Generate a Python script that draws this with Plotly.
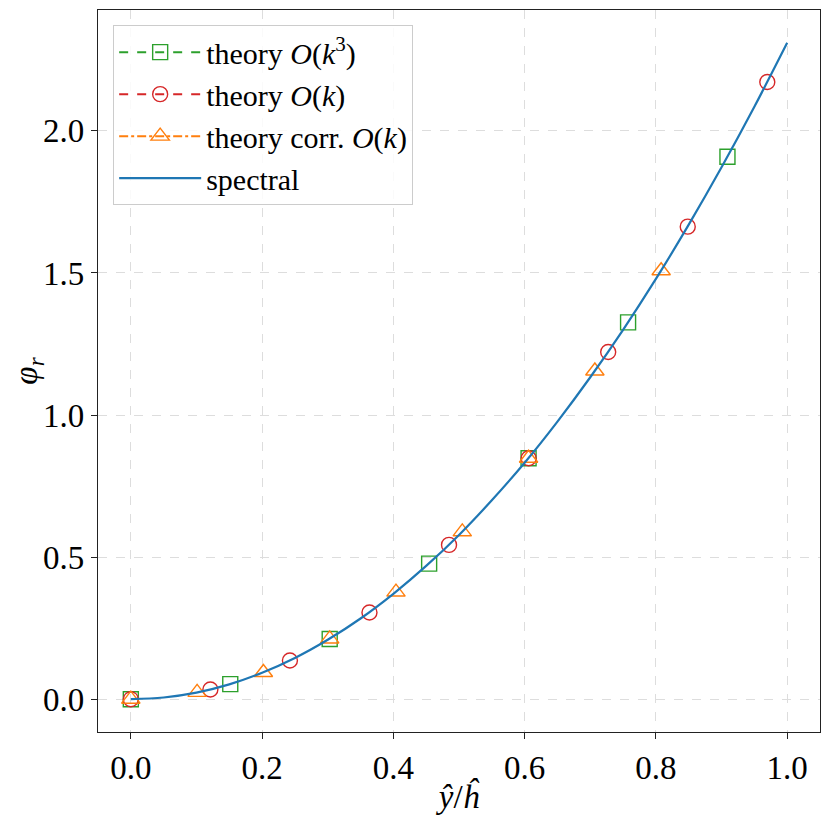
import plotly.graph_objects as go

# spectral solution
spec_x = [0.0, 0.05, 0.10, 0.15, 0.20, 0.25, 0.30, 0.35, 0.40, 0.45, 0.50,
          0.55, 0.60, 0.65, 0.70, 0.75, 0.80, 0.85, 0.90, 0.95, 1.00]
spec_y = [0.000, 0.006, 0.023, 0.052, 0.093, 0.145, 0.209, 0.284, 0.371, 0.469, 0.578,
          0.700, 0.832, 0.977, 1.133, 1.300, 1.479, 1.670, 1.872, 2.085, 2.310]

# theory O(k^3) (squares)
k3_x = [0.0, 0.1515, 0.303, 0.4545, 0.606, 0.7576, 0.909]
k3_y = [0.0, 0.053, 0.212, 0.477, 0.848, 1.326, 1.909]

# theory O(k) (circles)
k1_x = [0.0, 0.1212, 0.2424, 0.3636, 0.4848, 0.6061, 0.7273, 0.8485, 0.9697]
k1_y = [0.0, 0.034, 0.136, 0.305, 0.543, 0.848, 1.222, 1.663, 2.172]

# theory corr. O(k) (triangles)
kc_x = [0.0, 0.101, 0.202, 0.303, 0.404, 0.505, 0.606, 0.707, 0.808]
kc_y = [0.0, 0.024, 0.094, 0.212, 0.377, 0.589, 0.848, 1.155, 1.508]

x_ticks = [0.0, 0.2, 0.4, 0.6, 0.8, 1.0]
y_ticks = [0.0, 0.5, 1.0, 1.5, 2.0]

GREEN, RED, ORANGE, BLUE = "#2ca02c", "#d62728", "#ff7f0e", "#1f77b4"
FONT = "Liberation Serif"

fig = go.Figure()

series = [
    ("theory <i>O</i>(<i>k</i><sup>3</sup>)", k3_x, k3_y, GREEN, "square-open", "dash", 15),
    ("theory <i>O</i>(<i>k</i>)", k1_x, k1_y, RED, "circle-open", "dash", 15),
    ("theory corr. <i>O</i>(<i>k</i>)", kc_x, kc_y, ORANGE, "triangle-up-open", "dashdot", 16),
]

for i, (name, xs, ys, col, sym, dash, sz) in enumerate(series):
    fig.add_trace(go.Scatter(
        x=xs, y=ys, mode="markers", showlegend=False,
        marker=dict(symbol=sym, size=sz, color=col, line=dict(width=1.4, color=col)),
    ))
    fig.add_trace(go.Scatter(
        x=[None], y=[None], mode="lines+markers", name=name, legendgroup=f"g{i}",
        line=dict(color=col, width=2, dash=dash),
        marker=dict(symbol=sym, size=sz, color=col, line=dict(width=1.4, color=col)),
    ))

fig.add_trace(go.Scatter(
    x=spec_x, y=spec_y, mode="lines", name="spectral", legendgroup="g3",
    line=dict(color=BLUE, width=2.2, shape="spline"),
))

axis_common = dict(
    showline=True, mirror=True, linecolor="#222222", linewidth=1.3,
    ticks="outside", ticklen=6, tickwidth=1.2, tickcolor="#222222",
    showgrid=True, gridcolor="#dddddd", griddash="dash", gridwidth=1,
    zeroline=False, tickformat=".1f", automargin=False,
    tickfont=dict(family=FONT, size=33, color="black"),
)

fig.update_xaxes(range=[-0.05, 1.05], tickvals=x_ticks,
                 title=dict(text="<i>ŷ</i>/<i>ĥ</i>", font=dict(family=FONT, size=33, color="black"), standoff=0),
                 **axis_common)
fig.update_yaxes(range=[-0.1155, 2.4255], tickvals=y_ticks,
                 title=dict(text="<i>φ</i><sub><i>r</i></sub>", font=dict(family=FONT, size=33, color="black"), standoff=4),
                 **axis_common)

fig.update_layout(
    width=822, height=822,
    margin=dict(l=90, r=10, t=2, b=98),
    paper_bgcolor="white", plot_bgcolor="white",
    font=dict(family=FONT, color="black"),
    legend=dict(
        x=0.021, y=0.979, xanchor="left", yanchor="top",
        bgcolor="rgba(255,255,255,0.85)", bordercolor="#cccccc", borderwidth=1,
        font=dict(family=FONT, size=30, color="black"),
        tracegroupgap=8, traceorder="normal", itemwidth=82,
    ),
)

fig.write_html("out.html")
